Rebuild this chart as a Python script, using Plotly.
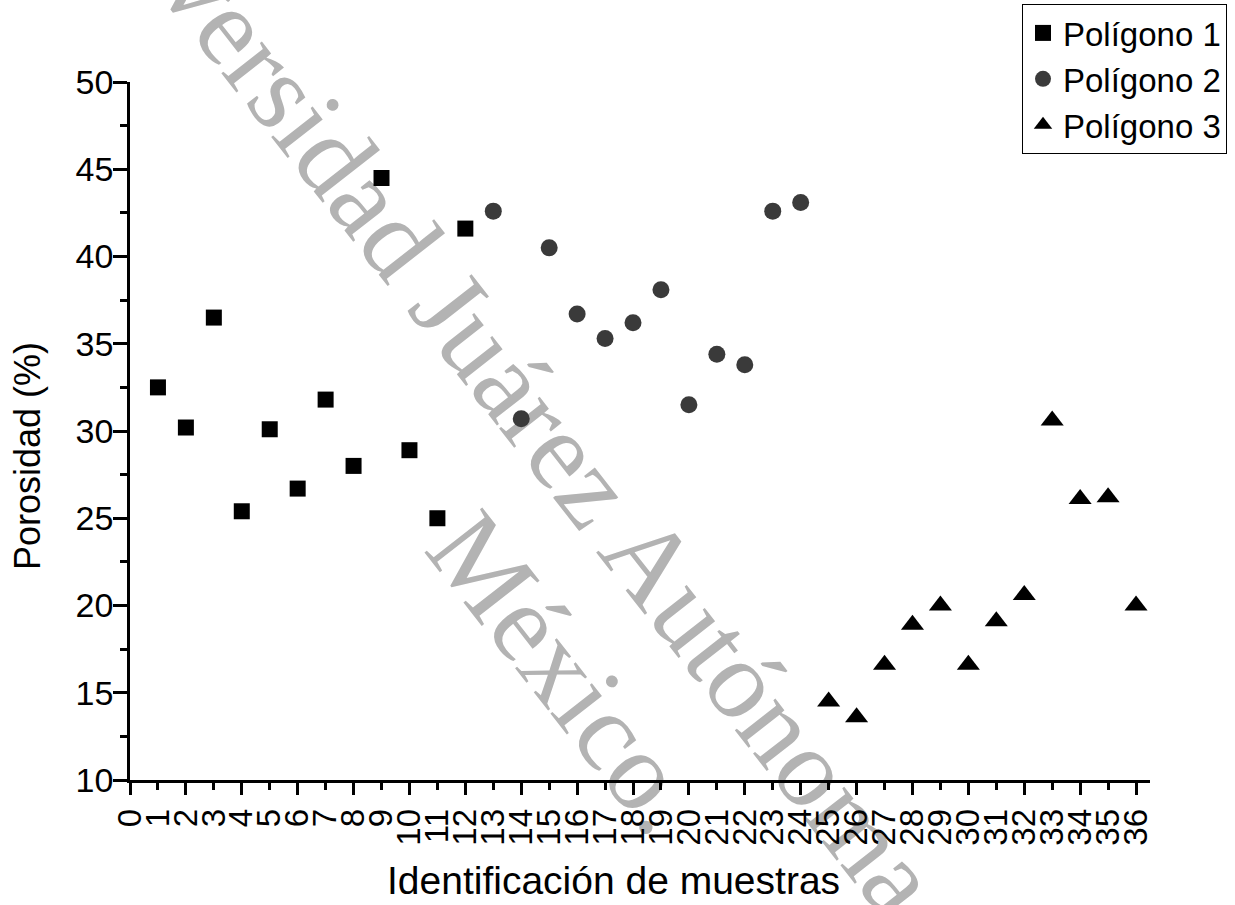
import plotly.graph_objects as go

# ---- data ----
sample_p1 = [1, 2, 3, 4, 5, 6, 7, 8, 9, 10, 11, 12]
poro_p1 = [32.5, 30.2, 36.5, 25.4, 30.1, 26.7, 31.8, 28.0, 44.5, 28.9, 25.0, 41.6]

sample_p2 = [13, 14, 15, 16, 17, 18, 19, 20, 21, 22, 23, 24]
poro_p2 = [42.6, 30.7, 40.5, 36.7, 35.3, 36.2, 38.1, 31.5, 34.4, 33.8, 42.6, 43.1]

sample_p3 = [25, 26, 27, 28, 29, 30, 31, 32, 33, 34, 35, 36]
poro_p3 = [14.5, 13.6, 16.6, 18.9, 20.0, 16.6, 19.1, 20.6, 30.6, 26.1, 26.2, 20.0]

x_tick_vals = list(range(0, 37))
x_tick_text = [str(v) for v in x_tick_vals]
y_tick_vals = [10, 15, 20, 25, 30, 35, 40, 45, 50]

series_names = ["Polígono 1", "Polígono 2", "Polígono 3"]
x_title = "Identificación de muestras"
y_title = "Porosidad (%)"
watermark_1 = "Universidad Juárez Autónoma de Tabasco"
watermark_2 = "México."

SANS = "Liberation Sans, Arial, Helvetica, sans-serif"
SERIF = "Liberation Serif, Times New Roman, serif"

fig = go.Figure()
fig.add_trace(go.Scatter(x=sample_p1, y=poro_p1, mode="markers", name=series_names[0],
                         marker=dict(symbol="square", size=16, color="#000000", line=dict(width=0))))
fig.add_trace(go.Scatter(x=sample_p2, y=poro_p2, mode="markers", name=series_names[1],
                         marker=dict(symbol="circle", size=17, color="#3a3a3a", line=dict(width=0))))
fig.add_trace(go.Scatter(x=sample_p3, y=poro_p3, mode="markers", name=series_names[2], xaxis="x2",
                         marker=dict(symbol="triangle-up", size=20, color="#000000", line=dict(width=0))))

xr = [0, 36.5]
fig.update_layout(
    width=1235, height=905,
    margin=dict(l=130, r=85, t=82, b=125, autoexpand=False),
    paper_bgcolor="white", plot_bgcolor="white",
    font=dict(family=SANS, color="black"),
    showlegend=True,
    legend=dict(x=1.0755, xanchor="right", y=1.1118, yanchor="top",
                bgcolor="white", bordercolor="black", borderwidth=1,
                font=dict(size=33, family=SANS, color="black"),
                tracegroupgap=0),
    xaxis=dict(range=xr, showline=True, linecolor="black", linewidth=2.5,
               ticks="outside", ticklen=7, tickwidth=2.5, tickcolor="black",
               tickmode="array", tickvals=x_tick_vals, ticktext=x_tick_text,
               tickangle=-90, tickfont=dict(size=33, family=SANS, color="black"),
               ticklabelstandoff=6, automargin=False,
               showgrid=False, zeroline=False, fixedrange=True),
    xaxis2=dict(overlaying="x", matches="x", anchor="y", side="bottom", range=xr,
                showline=False, ticks="outside", ticklen=14, tickwidth=2.5, tickcolor="black",
                tick0=0, dtick=2, showticklabels=False, showgrid=False, zeroline=False,
                automargin=False),
    yaxis=dict(range=[10, 50], showline=True, linecolor="black", linewidth=2.5,
               ticks="outside", ticklen=14, tickwidth=2.5, tickcolor="black",
               tickmode="array", tickvals=y_tick_vals,
               minor=dict(ticks="outside", ticklen=7, tickwidth=2.5, tickcolor="black", dtick=2.5, tick0=10),
               tickfont=dict(size=34, family=SANS, color="black"),
               ticklabelstandoff=-7, automargin=False,
               showgrid=False, zeroline=False, fixedrange=True),
)

# axis titles placed as in the reference
fig.add_annotation(text=y_title, xref="paper", yref="paper", x=-0.1, y=0.4642,
                   textangle=-90, showarrow=False, xanchor="center", yanchor="middle",
                   font=dict(size=36, family=SANS, color="black"))
fig.add_annotation(text=x_title, xref="paper", yref="paper", x=0.4745, y=-0.1433,
                   showarrow=False, xanchor="center", yanchor="middle",
                   font=dict(size=39, family=SANS, color="black"))

# watermark (drawn below the markers)
wm_font = dict(size=112, family=SERIF, color="#b3b3b3")
fig.add_shape(type="line", xref="paper", yref="paper", layer="below",
              x0=0.2276, y0=0.8710, x1=0.8313, y1=-0.2579,
              line=dict(width=0, color="rgba(0,0,0,0)"),
              label=dict(text=watermark_1, textposition="middle",
                         yanchor="middle", font=wm_font))
fig.add_shape(type="line", xref="paper", yref="paper", layer="below",
              x0=0.3165, y0=0.3905, x1=0.5579, y1=-0.0611,
              line=dict(width=0, color="rgba(0,0,0,0)"),
              label=dict(text=watermark_2, textposition="middle",
                         yanchor="middle", font=wm_font))

fig.write_html("out.html", config={"displayModeBar": False},
               post_script="document.body.style.margin='0px';")
